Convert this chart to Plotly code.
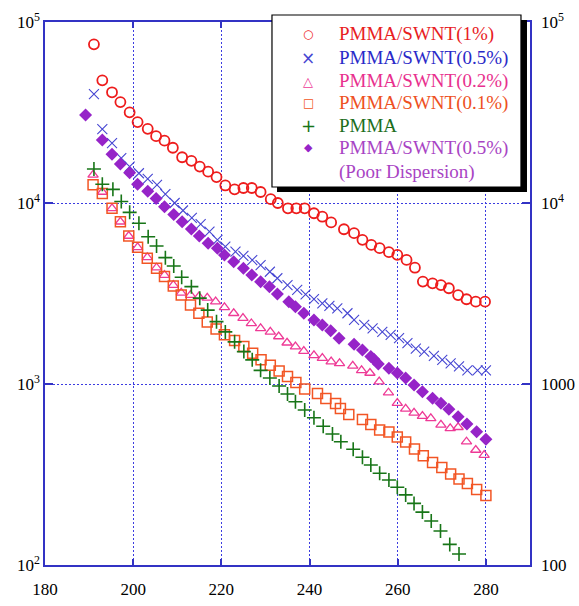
import plotly.graph_objects as go

# ---------------- data ----------------
t_1pct = [191.1, 193.0, 195.2, 197.1, 199.2, 201.0, 203.3, 205.2, 207.1, 209.0, 211.1, 213.2, 215.1,
          217.0, 218.9, 220.9, 223.0, 225.0, 226.9, 228.9, 231.2, 232.8, 235.1, 237.0, 238.9, 241.0,
          242.9, 244.9, 247.8, 250.1, 252.0, 254.0, 255.9, 258.0, 259.9, 262.0, 263.9, 265.7, 267.9,
          269.8, 271.6, 273.7, 275.6, 277.7, 279.8]
v_1pct = [75300, 47600, 40900, 36100, 31700, 28000, 25700, 23400, 22100, 20200, 17900, 17100, 15900,
          14900, 13900, 12500, 11900, 12100, 12100, 11500, 10500, 10000, 9350, 9350, 9350, 8780,
          8400, 7810, 7160, 6810, 6260, 5870, 5630, 5350, 5170, 4850, 4390, 3680, 3600,
          3520, 3380, 3100, 2940, 2850, 2850]

t_05pct = [191.1, 193.0, 195.2, 197.3, 199.2, 201.3, 203.3, 205.4, 207.3, 209.4, 211.3, 213.3, 215.3,
           217.3, 219.1, 220.9, 223.2, 225.0, 227.0, 228.9, 231.0, 232.7, 235.0, 237.2, 239.1, 241.0,
           242.9, 244.5, 246.3, 248.6, 250.1, 252.4, 254.3, 256.5, 258.4, 260.3, 262.2, 264.1, 266.0,
           268.2, 270.1, 272.0, 273.9, 275.8, 278.1, 280.0]
v_05pct = [40000, 25600, 21400, 17700, 15900, 14600, 13600, 12600, 11200, 10000, 9090, 8280, 7650,
           6940, 6250, 5740, 5380, 5100, 4840, 4540, 4170, 3840, 3520, 3310, 3130, 2940,
           2790, 2700, 2620, 2460, 2260, 2120, 2030, 1940, 1870, 1790, 1680, 1570, 1510,
           1430, 1360, 1300, 1250, 1190, 1190, 1190]

t_02pct = [190.9, 193.0, 195.2, 197.1, 199.0, 201.0, 203.2, 205.3, 207.1, 209.1, 210.9, 213.0, 214.9,
           216.8, 218.7, 220.7, 222.8, 224.9, 226.8, 228.9, 231.1, 233.0, 234.9, 236.8, 238.7, 241.0,
           242.9, 244.9, 246.8, 249.8, 251.8, 253.7, 255.8, 257.9, 259.9, 261.8, 263.7, 265.6, 267.5,
           269.8, 271.9, 273.7, 275.6, 277.7, 279.6]
v_02pct = [14300, 11500, 9350, 7880, 6570, 5690, 5010, 4390, 4000, 3520, 3190, 3100, 3040,
           2990, 2850, 2650, 2460, 2310, 2160, 2030, 1940, 1830, 1690, 1610, 1520, 1440,
           1390, 1330, 1300, 1260, 1190, 1150, 1030, 895, 785, 729, 692, 665, 646,
           594, 569, 577, 480, 432, 405]

t_01pct = [190.9, 193.0, 195.2, 197.1, 199.0, 201.0, 203.2, 205.3, 207.1, 209.1, 210.9, 213.0, 214.9,
           216.8, 218.8, 220.7, 223.0, 225.1, 227.1, 229.0, 231.1, 233.1, 235.0, 236.9, 238.9, 241.8,
           243.7, 245.9, 247.0, 248.9, 252.0, 253.9, 255.9, 258.0, 259.9, 261.8, 263.8, 265.8, 267.9,
           270.0, 272.0, 273.9, 275.8, 277.9, 280.0]
v_01pct = [12600, 11300, 9350, 7880, 6570, 5690, 4950, 4360, 3920, 3480, 3100, 2730, 2460,
           2200, 2010, 1870, 1740, 1610, 1480, 1360, 1270, 1180, 1100, 1020, 938, 886,
           832, 780, 732, 678, 637, 597, 557, 543, 509, 478, 437, 401, 368,
           346, 318, 299, 282, 261, 242]

t_pmma = [191.1, 193.0, 195.4, 197.3, 199.2, 201.3, 203.4, 205.3, 207.3, 209.2, 211.0, 213.2, 215.1,
          216.9, 218.9, 220.9, 223.0, 225.1, 227.0, 228.9, 231.0, 233.1, 235.0, 236.8, 238.9, 241.0,
          243.1, 245.2, 247.1, 249.9, 252.0, 253.9, 255.9, 258.0, 259.9, 261.8, 263.7, 265.6, 267.6,
          269.7, 271.8, 273.9]
v_pmma = [15400, 12700, 11900, 10200, 8880, 7730, 6510, 5790, 4990, 4490, 3890, 3450, 2980,
          2560, 2210, 1940, 1710, 1510, 1360, 1190, 1080, 975, 881, 798, 719, 651,
          584, 529, 480, 436, 394, 357, 321, 295, 269, 244, 219, 196, 175,
          154, 130, 115]

t_poor = [189.2, 193.0, 195.2, 197.1, 199.2, 201.0, 203.3, 205.2, 207.1, 209.2, 211.1, 213.2, 215.0,
          217.0, 219.1, 220.7, 222.8, 225.0, 226.9, 228.9, 230.9, 232.7, 235.3, 236.8, 238.7, 241.0,
          242.9, 244.8, 246.7, 250.1, 252.0, 253.9, 254.6, 255.6, 258.0, 259.9, 261.8, 263.7, 265.6,
          267.9, 269.8, 271.6, 273.7, 275.7, 277.9, 280.0]
v_poor = [30600, 22300, 18600, 16400, 14700, 12700, 11600, 10600, 9540, 8640, 7880, 7180, 6570,
          5990, 5620, 5160, 4740, 4360, 4000, 3670, 3450, 3140, 2850, 2670, 2460, 2260,
          2120, 1970, 1790, 1660, 1540, 1420, 1370, 1290, 1220, 1150, 1080, 988, 907,
          834, 782, 725, 660, 601, 545, 495]

legend_labels = ["PMMA/SWNT(1%)", "PMMA/SWNT(0.5%)", "PMMA/SWNT(0.2%)", "PMMA/SWNT(0.1%)",
                 "PMMA", "PMMA/SWNT(0.5%)"]
legend_extra = "(Poor Dispersion)"

x_ticks = [180, 200, 220, 240, 260, 280]
y_ticks = [100, 1000, 10000, 100000]
y_left_text = ["10<sup>2</sup>", "10<sup>3</sup>", "10<sup>4</sup>", "10<sup>5</sup>"]
y_right_text = ["100", "1000", "10<sup>4</sup>", "10<sup>5</sup>"]

FONT = "Liberation Serif"
AX = "#3333c4"
GRID = "#3c3ce0"

# style per series: marker colour, legend text colour, plotly symbol, legend glyph, glyph size
styles = [
    dict(c="#ee1c1c", tc="#e8201e", sym="circle-open", size=10, lw=1.8, glyph="○", gs=12),
    dict(c="#4646d2", tc="#2a2ac8", sym="x-thin-open", size=10, lw=1.1, glyph="×", gs=17),
    dict(c="#ee3a96", tc="#e8308e", sym="triangle-up-open", size=9, lw=1.3, glyph="△", gs=13),
    dict(c="#f25524", tc="#ee5022", sym="square-open", size=10, lw=1.5, glyph="□", gs=12),
    dict(c="#177517", tc="#1c6e1c", sym="cross-thin-open", size=10, lw=1.6, glyph="+", gs=18),
    dict(c="#9624c8", tc="#a844c4", sym="diamond", size=10, lw=0, glyph="◆", gs=11),
]
xs = [t_1pct, t_05pct, t_02pct, t_01pct, t_pmma, t_poor]
ys = [v_1pct, v_05pct, v_02pct, v_01pct, v_pmma, v_poor]

fig = go.Figure()
for i, st in enumerate(styles):
    fig.add_trace(go.Scatter(
        x=xs[i], y=ys[i], name=legend_labels[i] + (" " + legend_extra if i == 5 else ""),
        mode="markers", showlegend=False, hoverinfo="skip",
        marker=dict(symbol=st["sym"], size=st["size"], color=st["c"],
                    line=dict(width=st["lw"], color=st["c"]))))

# right-hand axis labels only
fig.add_trace(go.Scatter(x=[None], y=[None], yaxis="y2", showlegend=False, hoverinfo="skip"))

# legend box with drop shadow
fig.add_shape(type="rect", xref="paper", yref="paper", x0=0.4784, x1=0.9938, y0=0.6869, y1=1.0037,
              fillcolor="black", line=dict(width=0), layer="above")
fig.add_shape(type="rect", xref="paper", yref="paper", x0=0.4680, x1=0.9814, y0=0.6961, y1=1.0129,
              fillcolor="white", line=dict(width=1.2, color="black"), layer="above")

# legend rows (paper coordinates)
row_y = [0.9779, 0.9337, 0.8913, 0.8508, 0.8085, 0.7680]
extra_y = 0.7238
sym_x = 0.5423
txt_x = 0.6021
for i, st in enumerate(styles):
    fig.add_annotation(x=sym_x, y=row_y[i], xref="paper", yref="paper", text=st["glyph"],
                       showarrow=False, xanchor="center", yanchor="middle",
                       font=dict(family="DejaVu Sans", size=st["gs"], color=st["c"]))
    fig.add_annotation(x=txt_x, y=row_y[i], xref="paper", yref="paper", text=legend_labels[i],
                       showarrow=False, xanchor="left", yanchor="middle",
                       font=dict(family=FONT, size=19, color=st["tc"]))
fig.add_annotation(x=txt_x, y=extra_y, xref="paper", yref="paper", text=legend_extra,
                   showarrow=False, xanchor="left", yanchor="middle",
                   font=dict(family=FONT, size=19, color=styles[5]["tc"]))

fig.update_layout(
    width=579, height=606,
    margin=dict(l=45, r=49, t=22, b=41, autoexpand=False),
    paper_bgcolor="white", plot_bgcolor="white",
    font=dict(family=FONT, size=17, color="black"),
    showlegend=False,
    xaxis=dict(range=[180, 290], tickvals=x_ticks, ticks="inside", ticklen=6, tickcolor=AX,
               tickwidth=1.5, showline=True, linecolor=AX, linewidth=1.5, mirror="ticks",
               showgrid=True, gridcolor=GRID, griddash="2px,2px", gridwidth=1, zeroline=False,
               ticklabelstandoff=8, automargin=False,
               tickfont=dict(family=FONT, size=17, color="black")),
    yaxis=dict(type="log", range=[2, 5], tickvals=y_ticks, ticktext=y_left_text, ticks="inside",
               ticklen=8, tickcolor=AX, tickwidth=1.5, showline=True, linecolor=AX, linewidth=1.5,
               mirror="ticks", showgrid=True, gridcolor=GRID, griddash="2px,2px", gridwidth=1,
               zeroline=False, automargin=False,
               tickfont=dict(family=FONT, size=17, color="black")),
    yaxis2=dict(type="log", range=[2, 5], overlaying="y", side="right", tickvals=y_ticks,
                ticktext=y_right_text, ticks="", showline=False, showgrid=False, zeroline=False,
                ticklabelstandoff=10, automargin=False,
                tickfont=dict(family=FONT, size=17, color="black")),
)

fig.write_html("out.html")
